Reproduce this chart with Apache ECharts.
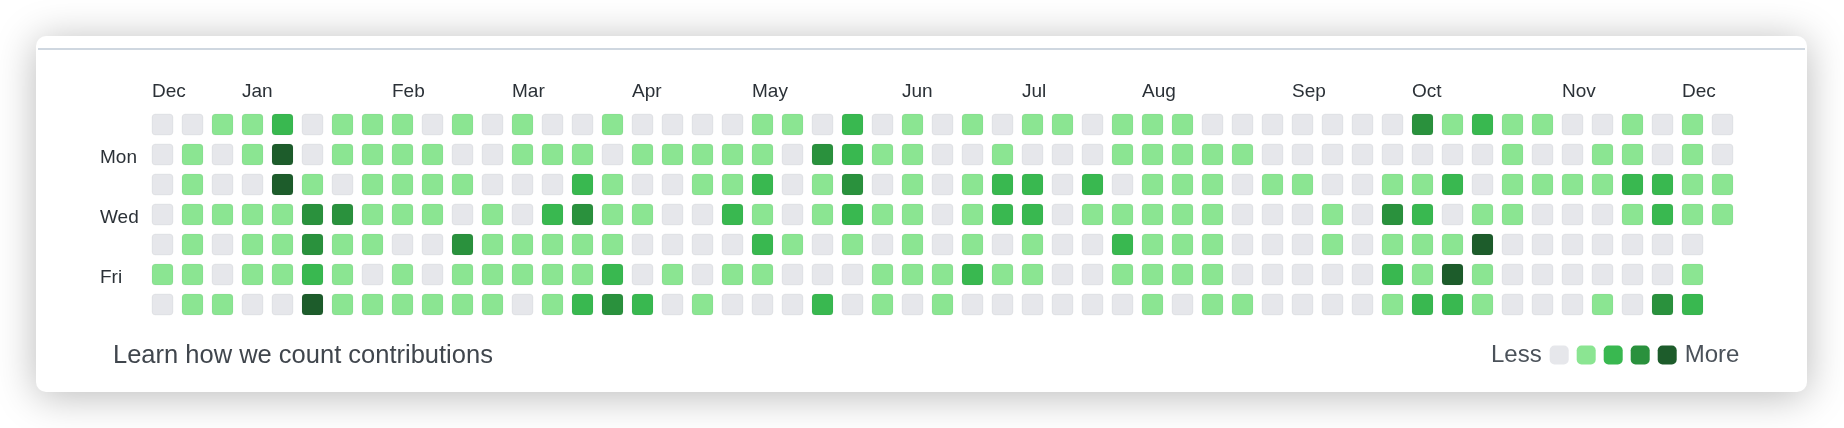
<!DOCTYPE html>
<html><head><meta charset="utf-8">
<script src="https://cdn.jsdelivr.net/npm/echarts@6/dist/echarts.min.js"></script>
<style>html,body{margin:0;padding:0;background:#fff}#c{width:1844px;height:428px}</style>
</head><body><div id="c"></div>
<script>
const monthLabels = ['Dec','Jan','Feb','Mar','Apr','May','Jun','Jul','Aug','Sep','Oct','Nov','Dec'];
const monthStartWeeks = [0,3,8,12,16,20,25,29,33,38,42,47,51];
const dayNames = ['Sun','Mon','Tue','Wed','Thu','Fri','Sat'];
const dayLabels = ['', 'Mon', '', 'Wed', '', 'Fri', ''];
const levelColors = ['#e6e7eb','#8be592','#39b850','#2a913d','#1d5c2b'];
const legendText = ['More','Less'];
const footerText = 'Learn how we count contributions';

// contribution level (0-4) per week, one array per weekday row
const sun = [0,0,1,1,2,0,1,1,1,0,1,0, 1,0,0,1,0,0,0,0,1,1,0,2,0, 1,0,1,0,1,1,0,1,1,1,0,0,0, 0,0,0,0,3,1,2,1,1,0,0,1,0,1,0];
const mon = [0,1,0,1,4,0,1,1,1,1,0,0, 1,1,1,0,1,1,1,1,1,0,3,2,1, 1,0,0,1,0,0,0,1,1,1,1,1,0, 0,0,0,0,0,0,0,1,0,0,1,1,0,1,0];
const tue = [0,1,0,0,4,1,0,1,1,1,1,0, 0,0,2,1,0,0,1,1,2,0,1,3,0, 1,0,1,2,2,0,2,0,1,1,1,0,1, 1,0,0,1,1,2,0,1,1,1,1,2,2,1,1];
const wed = [0,1,1,1,1,3,3,1,1,1,0,1, 0,2,3,1,1,0,0,2,1,0,1,2,1, 1,0,1,2,2,0,1,1,1,1,1,0,0, 0,1,0,3,2,0,1,1,0,0,0,1,2,1,1];
const thu = [0,1,0,1,1,3,1,1,0,0,3,1, 1,1,1,1,0,0,0,0,2,1,0,1,0, 1,0,1,0,1,0,0,2,1,1,1,0,0, 0,1,0,1,1,1,4,0,0,0,0,0,0,0];
const fri = [1,1,0,1,1,2,1,0,1,0,1,1, 1,1,1,2,0,1,0,1,1,0,0,0,1, 1,1,2,1,1,0,0,1,1,1,1,0,0, 0,0,0,2,1,4,1,0,0,0,0,0,0,1];
const sat = [0,1,1,0,0,4,1,1,1,1,1,1, 0,1,2,3,2,0,1,0,0,0,2,0,1, 0,1,0,0,0,0,0,0,1,0,1,1,0, 0,0,0,1,2,2,1,0,0,0,1,0,3,2];

const weekRows = [sun, mon, tue, wed, thu, fri, sat];
const cells = [];
weekRows.forEach((row, d) => row.forEach((lv, w) => cells.push([w, d, lv])));
const weekCount = sun.length;
const FONT = '"Liberation Sans", Arial, Helvetica, sans-serif';

const chart = echarts.init(document.getElementById('c'), null, {renderer: 'canvas'});
chart.setOption({
  backgroundColor: '#ffffff',
  animation: false,
  graphic: [
    {type: 'rect', z: -10, shape: {x: 36, y: 36, width: 1771, height: 356, r: 10},
     style: {fill: '#fff', shadowBlur: 40, shadowColor: 'rgba(0,0,0,0.28)', shadowOffsetY: 4}},
    {type: 'line', z: -9, shape: {x1: 38, y1: 49, x2: 1805, y2: 49},
     style: {stroke: '#cfd7e0', lineWidth: 2}}
  ],
  title: {
    text: footerText, left: 113, top: 343, padding: 0,
    textStyle: {fontFamily: FONT, fontSize: 25.5, fontWeight: 'normal', color: '#40464d'}
  },
  grid: {left: 152, top: 109.5, width: 30 * weekCount, height: 210},
  xAxis: {
    type: 'value', position: 'top', min: 0, max: weekCount,
    axisLine: {show: false}, axisTick: {show: false}, splitLine: {show: false},
    axisLabel: {
      customValues: monthStartWeeks,
      formatter: (v) => monthLabels[monthStartWeeks.indexOf(v)],
      align: 'left', margin: 8,
      fontFamily: FONT, fontSize: 19, color: '#2b3137'
    }
  },
  yAxis: {
    type: 'category', data: dayNames, inverse: true,
    axisLine: {show: false}, axisTick: {show: false}, splitLine: {show: false},
    axisLabel: {
      interval: 0, align: 'left', margin: 52,
      verticalAlign: 'top', lineHeight: 7,
      formatter: (v, i) => dayLabels[i],
      fontFamily: FONT, fontSize: 19, color: '#2b3137'
    }
  },
  visualMap: {
    type: 'piecewise', seriesIndex: 0, dimension: 2, orient: 'horizontal',
    pieces: levelColors.map((c, i) => ({value: i, color: c})),
    text: legendText, showLabel: false, selectedMode: false, hoverLink: false,
    itemWidth: 19, itemHeight: 19, itemGap: 8, itemSymbol: 'roundRect',
    left: 1476, top: 328,
    textStyle: {fontFamily: FONT, fontSize: 24, color: '#4b525a'}
  },
  series: [{
    type: 'custom',
    data: cells,
    encode: {x: 0, y: 1},
    renderItem: (params, api) => {
      const p = api.coord([api.value(0), api.value(1)]);
      const band = api.size([1, 1]);
      const w = band[0] * 0.7, h = band[1] * 0.7;
      return {
        type: 'rect',
        shape: {x: p[0], y: p[1] - h / 2, width: w, height: h, r: 3.5},
        style: {fill: api.visual('color'), stroke: 'rgba(27,31,35,0.05)', lineWidth: 1}
      };
    }
  }]
});
</script></body></html>
